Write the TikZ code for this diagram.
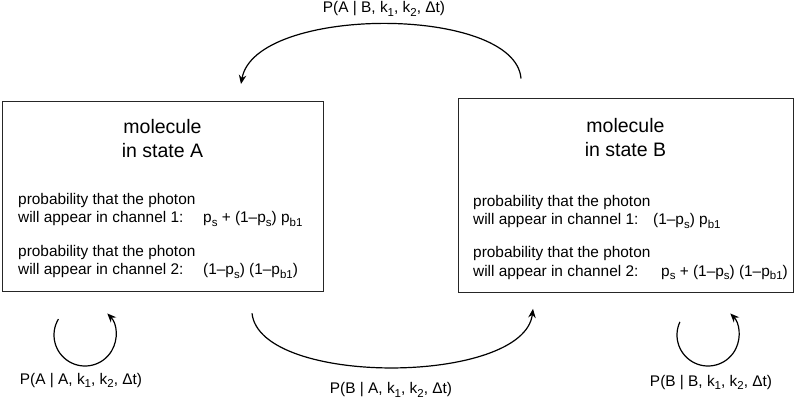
\documentclass[tikz,border=0pt]{standalone}
\usepackage{fontspec}
\setmainfont{Liberation Sans}
\usetikzlibrary{arrows.meta}
\newcommand\lsub[1]{\raisebox{-0.25em}{\fontsize{11.5}{11.5}\selectfont #1}}
\newcommand\mn{\textendash}
\tikzset{
  statebox/.style={draw=black!85, line width=1.3pt},
  titletext/.style={anchor=base, font=\fontsize{19.5}{23}\selectfont, inner sep=0pt},
  bodytext/.style={anchor=base west, font=\fontsize{15.4}{18}\selectfont, inner sep=0pt},
  lbl/.style={anchor=base, font=\fontsize{15.4}{18}\selectfont, inner sep=0pt},
  conn/.style={line width=1.2pt, -{Stealth[length=9pt,width=7.5pt,inset=3pt]}}
}
\begin{document}
\begin{tikzpicture}[x=1pt,y=-1pt]
\useasboundingbox (0,0) rectangle (797,400);
% boxes
\node[statebox, minimum width=321pt, minimum height=190pt, anchor=north west] (A) at (2,101) {};
\node[statebox, minimum width=335pt, minimum height=194pt, anchor=north west] (B) at (458,97.5) {};
% box A text
\node[titletext] (At1) at (162.5,133) {molecule};
\node[titletext] (At2) at (162.5,157) {in state A};
\node[bodytext] (Aa1) at (18,204) {probability that the photon};
\node[bodytext] (Aa2) at (18,222.5) {will appear in channel 1:};
\node[bodytext] (Af1) at (203,222.5) {p\lsub{s} + (1\mn p\lsub{s}) p\lsub{b1}};
\node[bodytext] (Ab1) at (18,256) {probability that the photon};
\node[bodytext] (Ab2) at (18,274.5) {will appear in channel 2:};
\node[bodytext] (Af2) at (203,274.5) {(1\mn p\lsub{s}) (1\mn p\lsub{b1})};
% box B text
\node[titletext] (Bt1) at (625.5,132) {molecule};
\node[titletext] (Bt2) at (625.5,156) {in state B};
\node[bodytext] (Ba1) at (473,206) {probability that the photon};
\node[bodytext] (Ba2) at (473,224.5) {will appear in channel 1:};
\node[bodytext] (Bf1) at (653,224.5) {(1\mn p\lsub{s}) p\lsub{b1}};
\node[bodytext] (Bb1) at (473,257.5) {probability that the photon};
\node[bodytext] (Bb2) at (473,276) {will appear in channel 2:};
\node[bodytext] (Bf2) at (661,276) {p\lsub{s} + (1\mn p\lsub{s}) (1\mn p\lsub{b1})};
% transition B -> A (top)
\coordinate (tBs) at ([xshift=63pt,yshift=19pt]B.north west);
\coordinate (tAe) at ([xshift=239pt,yshift=17pt]A.north west);
\draw[conn] (tBs) .. controls (515,5) and (255,5) .. (tAe);
\node[lbl] (lAB) at (384,12.5) {P(A | B, k\lsub{1}, k\lsub{2}, Δt)};
% transition A -> B (bottom)
\coordinate (bAs) at ([xshift=250pt,yshift=-21pt]A.south west);
\coordinate (bBe) at ([xshift=75pt,yshift=-16pt]B.south west);
\draw[conn] (bAs) .. controls (260,387) and (524,385) .. (bBe);
\node[lbl] (lBA) at (391,393.5) {P(B | A, k\lsub{1}, k\lsub{2}, Δt)};
% self loops
\coordinate (cA) at (85,335);
\draw[conn] ([shift={(-149:31)}]cA) arc[start angle=-149, end angle=-404, radius=31];
\node[lbl] (lAA) at (81,384) {P(A | A, k\lsub{1}, k\lsub{2}, Δt)};
\coordinate (cB) at (708,335);
\draw[conn] ([shift={(-155:31)}]cB) arc[start angle=-155, end angle=-404, radius=31];
\node[lbl] (lBB) at (711,386) {P(B | B, k\lsub{1}, k\lsub{2}, Δt)};
\end{tikzpicture}
\end{document}
